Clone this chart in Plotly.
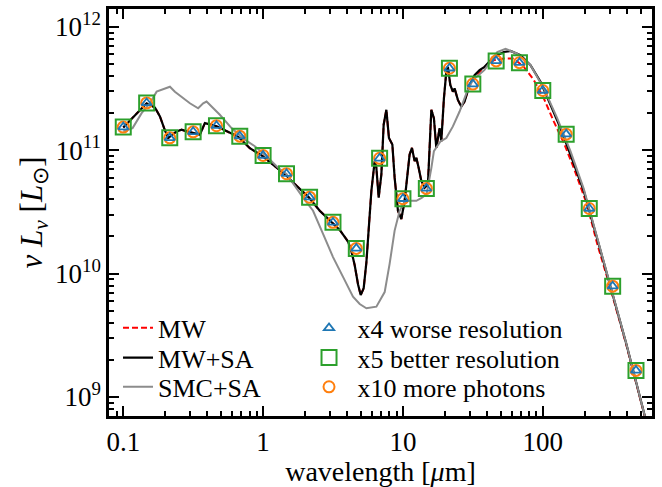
import plotly.graph_objects as go

# ---------------- data ----------------
# broadband photometry (wavelength in micron, nu L_nu in L_sun)
band_wl = [0.1, 0.147, 0.215, 0.316, 0.464, 0.681, 1.0, 1.47, 2.15, 3.16, 4.64, 6.81,
           10.0, 14.7, 21.5, 31.6, 46.4, 68.1, 100, 147, 215, 316, 464]
band_L_x4 = [1.54e11, 2.42e11, 1.26e11, 1.41e11, 1.58e11, 1.30e11, 9.06e10, 6.45e10, 4.16e10,
             2.6e10, 1.6e10, 8.6e10, 4.04e10, 4.9e10, 4.62e11, 3.44e11, 5.3e11, 5.13e11,
             3.05e11, 1.35e11, 3.37e10, 7.9e9, 1.64e9]
band_L_x5 = [1.54e11, 2.42e11, 1.26e11, 1.41e11, 1.58e11, 1.30e11, 9.06e10, 6.45e10, 4.16e10,
             2.6e10, 1.6e10, 8.6e10, 4.04e10, 4.9e10, 4.62e11, 3.44e11, 5.3e11, 5.13e11,
             3.05e11, 1.35e11, 3.37e10, 7.9e9, 1.64e9]
band_L_x10 = [1.54e11, 2.42e11, 1.26e11, 1.41e11, 1.58e11, 1.30e11, 9.06e10, 6.45e10, 4.16e10,
              2.6e10, 1.6e10, 8.6e10, 4.04e10, 4.9e10, 4.62e11, 3.44e11, 5.3e11, 5.13e11,
              3.05e11, 1.35e11, 3.37e10, 7.9e9, 1.64e9]

# MW+SA spectrum
mwsa_wl = [0.1, 0.1212, 0.1469, 0.1684, 0.1829, 0.1986, 0.2096, 0.2406, 0.2614, 0.2837, 0.3162,
           0.3531, 0.3834, 0.428, 0.4594, 0.5326, 0.6651, 0.8035, 0.9869, 1.212, 1.429, 1.741,
           2.121, 2.541, 3.111, 3.531, 4.048, 4.301, 4.519, 4.771, 4.987, 5.239, 5.478, 5.623,
           5.947, 6.28, 6.457, 6.706, 7.01, 7.28, 7.61, 7.943, 8.40, 8.72, 9.21, 9.74, 10.28,
           11.16, 11.60, 12.12, 12.47, 12.95, 13.53, 14.29, 15.09, 15.96, 16.65, 17.32, 18.29,
           18.81, 19.63, 20.42, 20.96, 21.81, 22.76, 23.40, 24.71, 26.13, 27.59, 29.95, 32.52,
           35.31, 38.33, 44.67, 52.64, 58.78, 69.30, 81.69, 96.30, 113.5, 133.8, 157.7, 196.3,
           244.7, 299.5, 394.2, 532.6, 740.1]
mwsa_L = [1.53e11, 1.912e11, 2.402e11, 2.218e11, 1.877e11, 1.449e11, 1.256e11, 1.422e11, 1.467e11,
          1.422e11, 1.378e11, 1.338e11, 1.658e11, 1.610e11, 1.574e11, 1.449e11, 1.284e11, 1.038e11,
          8.996e10, 7.434e10, 6.412e10, 5.134e10, 4.149e10, 3.231e10, 2.601e10, 2.259e10, 1.819e10,
          1.484e10, 1.166e10, 8.20e9, 6.69e9, 7.61e9, 1.233e10, 1.853e10, 4.68e10, 8.16e10, 7.20e10,
          4.13e10, 6.38e10, 1.61e11, 2.126e11, 1.256e11, 1.111e11, 5.99e10, 3.23e10, 2.77e10,
          3.89e10, 9.23e10, 1.044e11, 8.16e10, 8.67e10, 7.20e10, 5.63e10, 4.97e10, 5.30e10,
          2.126e11, 1.819e11, 1.044e11, 1.511e11, 1.181e11, 2.635e11, 4.32e11, 4.74e11, 3.38e11,
          2.983e11, 3.172e11, 2.558e11, 2.259e11, 2.479e11, 3.38e11, 4.06e11, 4.46e11, 4.74e11,
          5.70e11, 6.26e11, 6.38e11, 5.89e11, 4.89e11, 3.59e11, 2.332e11, 1.511e11, 9.23e10,
          4.68e10, 1.923e10, 8.31e9, 2.735e9, 7.24e8, 1.874e8]

# MW spectrum: identical to MW+SA shortward of ~28 micron, then its own far-IR part
mw_tail_wl = [29.95, 33.06, 37.70, 44.67, 52.64, 62.09, 73.15, 86.25, 101.7, 119.8, 141.3,
              166.5, 207.6, 244.7, 299.5, 394.2, 532.6, 740.1]
mw_tail_L = [3.38e11, 3.94e11, 4.65e11, 5.37e11, 5.53e11, 5.53e11, 4.74e11, 3.71e11, 2.635e11,
             1.712e11, 1.15e11, 7.2e10, 3.6e10, 1.75e10, 8.1e9, 2.68e9, 7.15e8, 1.85e8]
mw_wl = mwsa_wl[:69] + mw_tail_wl
mw_L = mwsa_L[:69] + mw_tail_L

# SMC+SA spectrum
smc_wl = [0.1, 0.1166, 0.1353, 0.1551, 0.1732, 0.1986, 0.2157, 0.2340, 0.2614, 0.2996, 0.3433,
          0.3727, 0.3941, 0.428, 0.4905, 0.5945, 0.7402, 0.8723, 1.0575, 1.28, 1.469, 1.931,
          2.276, 2.683, 3.162, 3.728, 4.394, 4.906, 5.478, 6.457, 7.40, 8.035, 8.72, 9.47, 10.28,
          11.16, 12.47, 13.60, 14.77, 15.96, 16.65, 18.59, 20.42, 22.76, 25.41, 28.37, 31.62,
          34.34, 38.33, 47.24, 54.15, 65.64, 81.69, 101.7, 126.7, 157.7, 196.3, 244.7, 299.5,
          394.2, 532.6, 740.1]
smc_L = [1.422e11, 1.511e11, 1.996e11, 2.402e11, 2.983e11, 3.172e11, 3.273e11, 2.983e11, 2.719e11,
         2.402e11, 2.189e11, 2.402e11, 2.479e11, 2.259e11, 1.937e11, 1.511e11, 1.219e11, 1.077e11,
         8.95e10, 7.20e10, 6.41e10, 4.13e10, 3.23e10, 2.098e10, 1.36e10, 9.39e9, 6.48e9, 5.66e9,
         5.23e9, 5.39e9, 7.07e9, 1.204e10, 2.23e10, 3.23e10, 3.82e10, 3.89e10, 3.89e10, 4.11e10,
         4.43e10, 7.16e10, 9.82e10, 1.181e11, 1.256e11, 1.56e11, 2.06e11, 2.875e11, 3.73e11,
         4.01e11, 4.48e11, 6.26e11, 6.65e11, 6.06e11, 4.89e11, 3.172e11, 1.819e11, 9.82e10,
         4.86e10, 1.959e10, 8.36e9, 2.75e9, 7.24e8, 1.874e8]

x_tickvals = [0.1, 1, 10, 100]
x_ticktext = ["0.1", "1", "10", "100"]
y_tickvals = [1e9, 1e10, 1e11, 1e12]
y_ticktext = ["10<sup>9</sup>", "10<sup>10</sup>", "10<sup>11</sup>", "10<sup>12</sup>"]

# ---------------- figure ----------------
FONT = "Liberation Serif"
fig = go.Figure()

fig.add_trace(go.Scatter(x=mw_wl, y=mw_L, mode="lines", name="MW", showlegend=True,
                         line=dict(color="#ff0000", width=2, dash="6px,3px"), legend="legend"))
fig.add_trace(go.Scatter(x=mwsa_wl, y=mwsa_L, mode="lines", name="MW+SA",
                         line=dict(color="#000000", width=2.2), legend="legend2"))
fig.add_trace(go.Scatter(x=smc_wl, y=smc_L, mode="lines", name="SMC+SA",
                         line=dict(color="#8c8c8c", width=2), legend="legend3"))

fig.add_trace(go.Scatter(x=band_wl, y=band_L_x5, mode="markers", name="x5 better resolution",
                         marker=dict(symbol="square-open", size=15, color="#2ca02c",
                                     line=dict(width=2, color="#2ca02c")),
                         legend="legend5"))
fig.add_trace(go.Scatter(x=band_wl, y=band_L_x10, mode="markers", name="x10 more photons",
                         marker=dict(symbol="circle-open", size=11, color="#ff7f0e",
                                     line=dict(width=2, color="#ff7f0e")),
                         legend="legend6"))
fig.add_trace(go.Scatter(x=band_wl, y=band_L_x4, mode="markers", name="x4 worse resolution",
                         marker=dict(symbol="triangle-up-open", size=9, color="#1f77b4",
                                     line=dict(width=1.8, color="#1f77b4")),
                         legend="legend4"))

x_minor = [v * 10 ** e for e in range(-2, 3) for v in range(2, 10)]
y_minor = [v * 10 ** e for e in range(8, 13) for v in range(2, 10)]

axis_common = dict(
    type="log", showline=True, linecolor="black", linewidth=2.5, mirror="allticks",
    ticks="inside", ticklen=10, tickwidth=2, tickcolor="black", showgrid=False, zeroline=False,
    tickfont=dict(family=FONT, size=27, color="black"),
    minor=dict(ticks="inside", ticklen=5, tickwidth=1.5, tickcolor="black", showgrid=False),
)

fig.update_xaxes(**axis_common, range=[-1.102, 2.781], tickmode="array",
                 tickvals=x_tickvals, ticktext=x_ticktext,
                 title=dict(text="wavelength [<i>μ</i>m]", font=dict(family=FONT, size=28, color="black"),
                            standoff=3))
fig.update_xaxes(minor_tickvals=x_minor)
fig.update_yaxes(**axis_common, range=[8.845, 12.145], tickmode="array",
                 tickvals=y_tickvals, ticktext=y_ticktext,
                 title=dict(text="<i>ν L<sub>ν</sub></i> [<i>L</i><sub>⊙</sub>]",
                            font=dict(family=FONT, size=31, color="black"), standoff=4))
fig.update_yaxes(minor_tickvals=y_minor)

# each legend row is its own legend so that rows sit at the reference spacing
row_y = [0.2163, 0.1432, 0.0715]
leg_font = dict(family=FONT, size=26, color="black")
legends = {}
for i, yy in enumerate(row_y):
    legends["legend" if i == 0 else "legend%d" % (i + 1)] = dict(
        x=0.0166, y=yy, xanchor="left", yanchor="middle", bgcolor="rgba(0,0,0,0)",
        font=leg_font, itemwidth=30, visible=True)
    legends["legend%d" % (i + 4)] = dict(
        x=0.3527, y=yy, xanchor="left", yanchor="middle", bgcolor="rgba(0,0,0,0)",
        font=leg_font, itemwidth=47, visible=True)

fig.update_layout(
    width=662, height=487,
    margin=dict(l=109, r=10, t=6, b=71),
    plot_bgcolor="white", paper_bgcolor="white",
    font=dict(family=FONT, color="black"),
    showlegend=True,
    **legends,
)

fig.write_html("out.html")
